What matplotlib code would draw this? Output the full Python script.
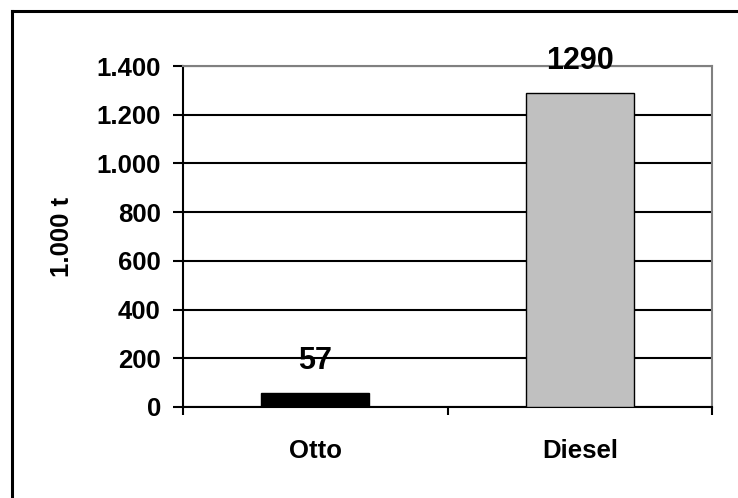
import matplotlib
matplotlib.use("Agg")
import matplotlib.pyplot as plt
from matplotlib.lines import Line2D

# data
categories = ["Otto", "Diesel"]
values = [57, 1290]
bar_colors = ["#000000", "#C0C0C0"]
yticks = [0, 200, 400, 600, 800, 1000, 1200, 1400]
ytick_labels = ["0", "200", "400", "600", "800", "1.000", "1.200", "1.400"]
ylabel = "1.000 t"

plt.rcParams["font.family"] = ["Liberation Sans", "DejaVu Sans"]
plt.rcParams["font.weight"] = "bold"

fig = plt.figure(figsize=(7.38, 4.98), dpi=100)
ax = fig.add_axes([183 / 738, 1 - 407 / 498, (712 - 183) / 738, (407 - 66) / 498])

x = list(range(len(categories)))
bars = ax.bar(x, values, width=0.41, color=bar_colors, edgecolor="black",
              linewidth=1.0, zorder=3)

for xi, v in zip(x, values):
    ax.annotate(str(v), (xi, v), xytext=(0, 12), textcoords="offset points",
                ha="center", va="bottom", fontsize=22, fontweight="bold")

ax.set_xlim(-0.5, 1.5)
ax.set_ylim(0, 1400)

# horizontal grid lines
ax.set_axisbelow(True)
ax.yaxis.grid(True, color="black", linewidth=1.5)

ax.set_yticks(yticks)
ax.set_yticklabels(ytick_labels, fontsize=18.5, fontweight="bold")
ax.tick_params(axis="y", direction="out", length=7, width=1.5, pad=9)

# category labels at centres, tick marks at the category borders
ax.set_xticks(x)
ax.set_xticklabels(categories, fontsize=18.5, fontweight="bold")
ax.tick_params(axis="x", which="major", length=0, pad=23)
ax.set_xticks([-0.5, 0.5, 1.5], minor=True)
ax.tick_params(axis="x", which="minor", direction="out", length=6, width=1.5)

ax.set_ylabel(ylabel, fontsize=18.5, fontweight="bold", labelpad=16)

for side in ["left", "bottom"]:
    ax.spines[side].set_color("black")
    ax.spines[side].set_linewidth(1.5)
for side in ["top", "right"]:
    ax.spines[side].set_color("#808080")
    ax.spines[side].set_linewidth(1.5)

# outer chart frame
W, H = 738, 498
fig.add_artist(Line2D([12 / W, 12 / W], [1 - 11 / H, 0], transform=fig.transFigure,
                      color="black", linewidth=2.2))
fig.add_artist(Line2D([12 / W, 1], [1 - 11 / H, 1 - 11 / H], transform=fig.transFigure,
                      color="black", linewidth=2.2))

fig.savefig("out.png", dpi=100)
